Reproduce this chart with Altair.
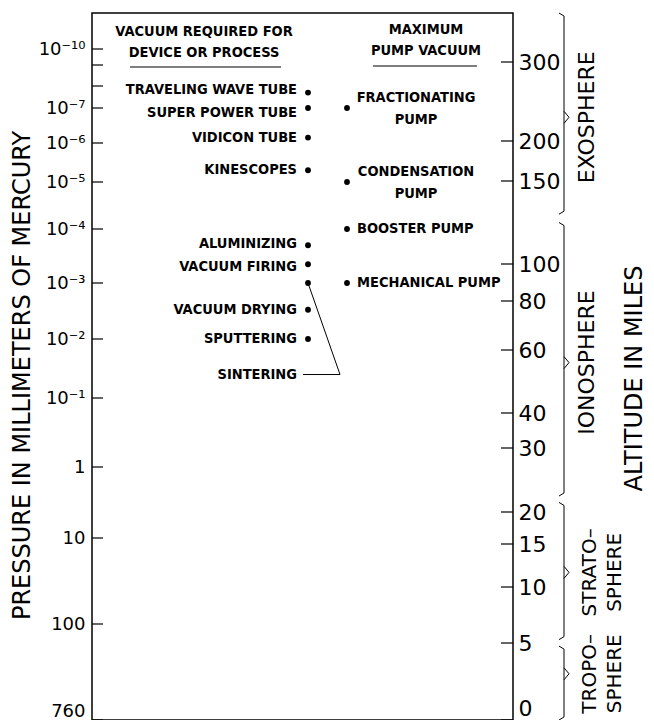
import altair as alt
import pandas as pd

# ---------------- data ----------------
# Left axis: pressure in mm of mercury
pressure_ticks = [1e-10, 1e-9, 1e-8, 1e-7, 1e-6, 1e-5, 1e-4, 1e-3, 1e-2, 1e-1, 1, 10, 100, 760]
pressure_tick_labels = ["10⁻¹⁰", "", "", "10⁻⁷", "10⁻⁶", "10⁻⁵", "10⁻⁴", "10⁻³",
                        "10⁻²", "10⁻¹", "1", "10", "100", "760"]
# Right axis: altitude in miles
altitude_ticks = [0, 5, 10, 15, 20, 30, 40, 60, 80, 100, 150, 200, 300]

# Vacuum required for device or process
devices = ["TRAVELING WAVE TUBE", "SUPER POWER TUBE", "VIDICON TUBE", "KINESCOPES",
           "ALUMINIZING", "VACUUM FIRING", "SINTERING", "VACUUM DRYING", "SPUTTERING"]
device_pressure = [2e-8, 1e-7, 7e-7, 5e-6, 2e-4, 4.5e-4, 1e-3, 3e-3, 1e-2]
device_label_pressure = [1.5e-8, 1.4e-7, 7e-7, 5e-6, 1.9e-4, 5e-4, 4e-2, 3e-3, 1e-2]

# Maximum pump vacuum
pumps = ["FRACTIONATING\nPUMP", "CONDENSATION\nPUMP", "BOOSTER PUMP", "MECHANICAL PUMP"]
pump_pressure = [1e-7, 1e-5, 1e-4, 1e-3]

# Atmosphere layers (altitude ranges, miles)
layers = ["EXOSPHERE", "IONOSPHERE", "STRATO–\nSPHERE", "TROPO–\nSPHERE"]
layer_top = [362, 125, 21.5, 4.8]
layer_bottom = [130, 22.5, 5.3, 0]
layer_mid = [230, 56, 11.7, 3.0]

# ---------------- layout (nomogram scale geometry) ----------------
W, H = 421, 707
pressure_px = [36, 52, 73, 95, 130, 169, 216, 270, 326, 385, 454, 525, 611, 707]
altitude_px = [707, 630, 574, 531, 499, 435, 400, 337, 288, 251, 168, 128, 49]

LABEL_FONT = "DejaVu Sans Condensed, Liberation Sans, sans-serif"
NUM_FONT = "DejaVu Sans"
LBL_SIZE = 14.5


def label_expr(ticks, labels):
    expr = "''"
    for v, l in reversed(list(zip(ticks, labels))):
        expr = f"(abs(log(datum.value) - log({v!r})) < 0.01 ? '{l}' : {expr})"
    return expr


dev_df = pd.DataFrame({"name": devices, "p": device_pressure,
                       "lp": device_label_pressure, "col": 0})
pump_df = pd.DataFrame({"name": pumps, "p": pump_pressure, "col": 1})
pump_df["multi"] = pump_df["name"].str.contains("\n")
layer_df = pd.DataFrame({"name": layers, "top": layer_top,
                         "bottom": layer_bottom, "mid": layer_mid})
ptick_df = pd.DataFrame({"v": pressure_ticks})
atick_df = pd.DataFrame({"v": altitude_ticks})

p_scale = alt.Scale(type="log", domain=pressure_ticks, range=pressure_px, nice=False)
a_scale = alt.Scale(type="linear", domain=altitude_ticks, range=altitude_px,
                    nice=False, zero=False)
x_scale = alt.Scale(domain=[0, 1], range=[216, 255], nice=False, zero=False)

p_axis = alt.Axis(values=pressure_ticks, labelExpr=label_expr(pressure_ticks, pressure_tick_labels),
                  orient="left", ticks=False, domain=False, grid=False,
                  labelPadding=7, labelFont=NUM_FONT, labelFontSize=18, labelColor="black",
                  labelOverlap=False,
                  labelBaseline={"condition": {"test": "datum.value > 500", "value": "bottom"},
                                 "value": "middle"},
                  title="PRESSURE IN MILLIMETERS OF MERCURY", titleFont=NUM_FONT,
                  titleFontSize=24, titleFontWeight="normal", titleColor="black",
                  titleAngle=270, titleX=-70, titleY=362, titleAlign="center",
                  titleBaseline="middle")
a_axis = alt.Axis(values=altitude_ticks, format="d", orient="right", ticks=False,
                  domain=False, grid=False, labelPadding=5, labelFont=NUM_FONT,
                  labelFontSize=22, labelColor="black", labelOverlap=False,
                  labelBaseline={"condition": {"test": "datum.value < 0.5", "value": "bottom"},
                                 "value": "middle"},
                  title="ALTITUDE IN MILES", titleFont=NUM_FONT,
                  titleFontSize=24, titleFontWeight="normal", titleColor="black",
                  titleAngle=270, titleX=121, titleY=365, titleAlign="center",
                  titleBaseline="middle")

X = alt.X("col:Q", scale=x_scale, axis=None)
PY = alt.Y("p:Q", scale=p_scale, axis=p_axis)

p_ticks = alt.Chart(ptick_df).mark_rule(color="black", strokeWidth=1.2).encode(
    x=alt.value(0), x2=alt.value(11), y=alt.Y("v:Q", scale=p_scale, axis=p_axis))

dev_dots = alt.Chart(dev_df).mark_circle(size=34, color="black", opacity=1).encode(x=X, y=PY)
dev_labels = alt.Chart(dev_df).mark_text(align="right", baseline="middle", dx=-11,
                                         font=LABEL_FONT, fontSize=LBL_SIZE, fontWeight="bold",
                                         color="black").encode(
    x=X, y=alt.Y("lp:Q", scale=p_scale, axis=p_axis), text="name:N")
sint = dev_df[dev_df["name"] == "SINTERING"]
sint_diag = alt.Chart(sint).mark_rule(color="black", strokeWidth=1).encode(
    x=X, y=PY, x2=alt.value(248), y2="lp:Q")
sint_horiz = alt.Chart(sint).mark_rule(color="black", strokeWidth=1).encode(
    x=alt.value(211), x2=alt.value(248), y=alt.Y("lp:Q", scale=p_scale, axis=p_axis))

pump_dots = alt.Chart(pump_df).mark_circle(size=34, color="black", opacity=1).encode(x=X, y=PY)
pump_multi = alt.Chart(pump_df).transform_filter("datum.multi").mark_text(
    align="center", baseline="middle", dx=69, dy=-10, lineBreak="\n", lineHeight=22,
    font=LABEL_FONT, fontSize=LBL_SIZE, fontWeight="bold", color="black").encode(
    x=X, y=PY, text="name:N")
pump_single = alt.Chart(pump_df).transform_filter("!datum.multi").mark_text(
    align="left", baseline="middle", dx=10,
    font=LABEL_FONT, fontSize=LBL_SIZE, fontWeight="bold", color="black").encode(
    x=X, y=PY, text="name:N")

hdr_df = pd.DataFrame({"t": ["VACUUM REQUIRED FOR\nDEVICE OR PROCESS", "MAXIMUM\nPUMP VACUUM"]})
hdr1 = alt.Chart(hdr_df).transform_filter("datum.t[0] == 'V'").mark_text(
    align="center", baseline="middle", lineBreak="\n", lineHeight=21,
    font=LABEL_FONT, fontSize=LBL_SIZE, fontWeight="bold", color="black").encode(
    x=alt.value(112), y=alt.value(19), text="t:N")
hdr2 = alt.Chart(hdr_df).transform_filter("datum.t[0] == 'M'").mark_text(
    align="center", baseline="middle", lineBreak="\n", lineHeight=21,
    font=LABEL_FONT, fontSize=LBL_SIZE, fontWeight="bold", color="black").encode(
    x=alt.value(334), y=alt.value(17), text="t:N")
ul1 = alt.Chart(hdr_df).transform_filter("datum.t[0] == 'V'").mark_rule(
    color="black", strokeWidth=1.2).encode(x=alt.value(38), x2=alt.value(189), y=alt.value(54))
ul2 = alt.Chart(hdr_df).transform_filter("datum.t[0] == 'M'").mark_rule(
    color="black", strokeWidth=1.2).encode(x=alt.value(281), x2=alt.value(385), y=alt.value(53))

pressure_part = alt.layer(p_ticks, dev_dots, dev_labels, sint_diag, sint_horiz, pump_dots,
                          pump_multi, pump_single, hdr1, hdr2, ul1, ul2)

AY = lambda f: alt.Y(f, scale=a_scale, axis=a_axis)
BX = 472
a_ticks = alt.Chart(atick_df).mark_rule(color="black", strokeWidth=1.2).encode(
    x=alt.value(W - 12), x2=alt.value(W), y=AY("v:Q"))
brace_v = alt.Chart(layer_df).mark_rule(color="black", strokeWidth=1, yOffset=3, y2Offset=-3).encode(
    x=alt.value(BX), y=AY("top:Q"), y2="bottom:Q")
brace_top = alt.Chart(layer_df).mark_rule(color="black", strokeWidth=1, yOffset=3, y2Offset=0).encode(
    x=alt.value(BX), x2=alt.value(BX - 5), y=AY("top:Q"), y2="top:Q")
brace_bot = alt.Chart(layer_df).mark_rule(color="black", strokeWidth=1, yOffset=-3, y2Offset=0).encode(
    x=alt.value(BX), x2=alt.value(BX - 5), y=AY("bottom:Q"), y2="bottom:Q")
cusp_a = alt.Chart(layer_df).mark_rule(color="black", strokeWidth=1, yOffset=-6, y2Offset=0).encode(
    x=alt.value(BX), x2=alt.value(BX + 5), y=AY("mid:Q"), y2="mid:Q")
cusp_b = alt.Chart(layer_df).mark_rule(color="black", strokeWidth=1, yOffset=6, y2Offset=0).encode(
    x=alt.value(BX), x2=alt.value(BX + 5), y=AY("mid:Q"), y2="mid:Q")
single_names = alt.Chart(layer_df).transform_filter("indexof(datum.name, '–') < 0").mark_text(
    angle=270, align="center", baseline="middle", font=NUM_FONT, fontSize=22,
    color="black").encode(x=alt.value(495), y=AY("mid:Q"), text="name:N")
double_names = alt.Chart(layer_df).transform_filter("indexof(datum.name, '–') >= 0").mark_text(
    angle=270, align="center", baseline="middle", font=NUM_FONT, fontSize=20, lineBreak="\n",
    lineHeight=25, color="black").encode(x=alt.value(498), y=AY("mid:Q"), text="name:N")

altitude_part = alt.layer(a_ticks, brace_v, brace_top, brace_bot, cusp_a, cusp_b,
                          single_names, double_names)

chart = alt.layer(pressure_part, altitude_part).resolve_scale(y="independent").properties(
    width=W, height=H,
    autosize=alt.AutoSizeParams(type="none"),
    padding={"left": 84, "top": 5, "right": 133, "bottom": 0},
    background="white",
).configure_view(stroke="black", strokeWidth=1.5)

chart.save("out.html", embed_options={"renderer": "svg", "actions": False})
